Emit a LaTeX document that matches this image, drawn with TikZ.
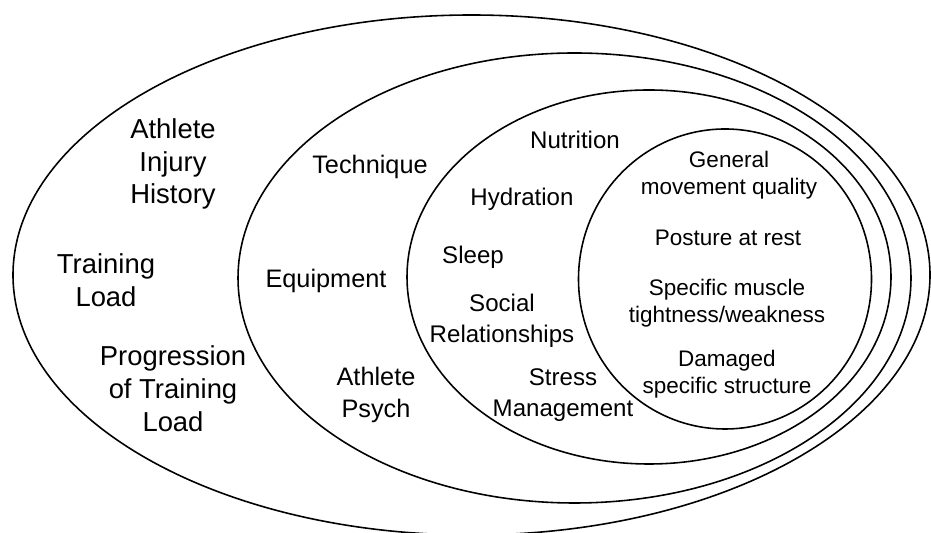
\documentclass[tikz,border=0pt]{standalone}
\usepackage{fontspec}
\setmainfont{Liberation Sans}
\usepackage{tikz}
\usetikzlibrary{positioning}

\begin{document}
\begin{tikzpicture}[
    ring/.style={draw, line width=0.9pt},
    outerlabel/.style={align=center, inner sep=0pt, font=\fontsize{15.6}{18.7}\selectfont},
    midlabel/.style={align=center, inner sep=0pt, font=\fontsize{14.4}{18.7}\selectfont},
    lifelabel/.style={align=center, inner sep=0pt, font=\fontsize{13.7}{17.6}\selectfont},
    innerlabel/.style={align=center, inner sep=0pt, font=\fontsize{12.8}{15.6}\selectfont}
]
\useasboundingbox (0,0) rectangle (18.62,10.66);

% Nested rings, outermost first
\draw[ring] (9.43, 5.16) ellipse [x radius=9.17, y radius=5.20];
\draw[ring] (11.49, 5.10) ellipse [x radius=6.73, y radius=4.50];
\draw[ring] (12.98, 5.12) ellipse [x radius=4.84, y radius=3.74];
\draw[ring] (14.50, 5.08) ellipse [x radius=2.93, y radius=3.00];

% Outer ring: load and history
\node[outerlabel] (injury) at (3.46, 7.38) {Athlete\\Injury\\History};
\node[outerlabel] (load) at (2.12, 5.06) {Training\\Load};
\node[outerlabel] (progression) at (3.46, 2.88) {Progression\\of Training\\Load};

% Second ring
\node[midlabel] (technique) at (7.40, 7.32) {Technique};
\node[midlabel] (equipment) at (6.52, 5.04) {Equipment};
\node[midlabel] (psych) at (7.52, 2.76) {Athlete\\Psych};

% Third ring: lifestyle
\node[lifelabel] (nutrition) at (11.50, 7.86) {Nutrition};
\node[lifelabel] (hydration) at (10.44, 6.68) {Hydration};
\node[lifelabel] (sleep) at (9.46, 5.52) {Sleep};
\node[lifelabel] (social) at (10.04, 4.24) {Social\\Relationships};
\node[lifelabel] (stress) at (11.26, 2.76) {Stress\\Management};

% Inner circle: the athlete's body
\node[innerlabel] (movement) at (14.58, 7.16) {General\\movement quality};
\node[innerlabel] (posture) at (14.56, 5.90) {Posture at rest};
\node[innerlabel] (muscle) at (14.54, 4.60) {Specific muscle\\tightness/weakness};
\node[innerlabel] (damaged) at (14.54, 3.18) {Damaged\\specific structure};

\end{tikzpicture}
\end{document}
